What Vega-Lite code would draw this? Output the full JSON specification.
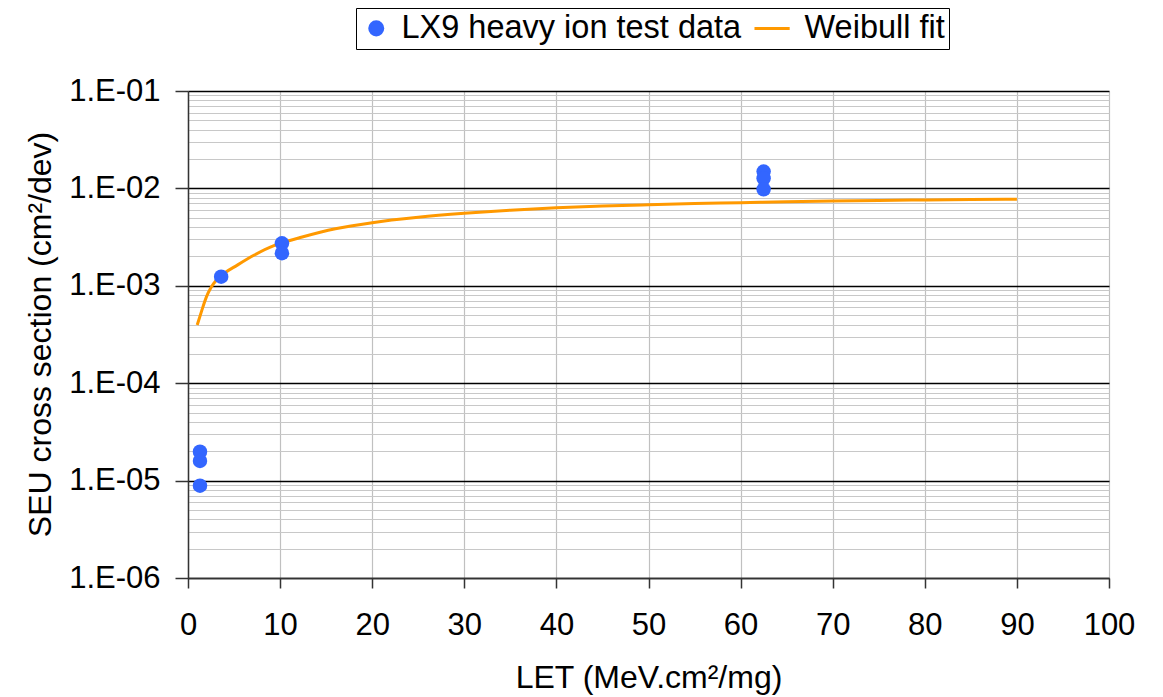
{
  "$schema": "https://vega.github.io/schema/vega-lite/v6.json",
  "autosize": "none",
  "padding": {"left": 188, "top": 91, "right": 54, "bottom": 119},
  "width": 921,
  "height": 487,
  "background": "white",
  "config": {
    "font": "Liberation Sans",
    "view": {"stroke": null},
    "axis": {
      "labelFont": "Liberation Sans",
      "titleFont": "Liberation Sans",
      "labelColor": "black",
      "titleColor": "black",
      "titleFontWeight": "normal",
      "labelFontSize": 31,
      "titleFontSize": 32
    }
  },
  "datasets": {
    "fit": [
      {"let": 1.0, "xs": 0.000396, "series": "Weibull fit"},
      {"let": 1.45, "xs": 0.00054, "series": "Weibull fit"},
      {"let": 2.0, "xs": 0.00077, "series": "Weibull fit"},
      {"let": 2.5, "xs": 0.00096, "series": "Weibull fit"},
      {"let": 3.07, "xs": 0.00114, "series": "Weibull fit"},
      {"let": 3.6, "xs": 0.00127, "series": "Weibull fit"},
      {"let": 5.4, "xs": 0.00164, "series": "Weibull fit"},
      {"let": 7.2, "xs": 0.00207, "series": "Weibull fit"},
      {"let": 9.4, "xs": 0.0026, "series": "Weibull fit"},
      {"let": 10.2, "xs": 0.00276, "series": "Weibull fit"},
      {"let": 12.3, "xs": 0.00315, "series": "Weibull fit"},
      {"let": 16, "xs": 0.00385, "series": "Weibull fit"},
      {"let": 20, "xs": 0.00445, "series": "Weibull fit"},
      {"let": 25, "xs": 0.00505, "series": "Weibull fit"},
      {"let": 30, "xs": 0.00555, "series": "Weibull fit"},
      {"let": 35, "xs": 0.00598, "series": "Weibull fit"},
      {"let": 40, "xs": 0.00634, "series": "Weibull fit"},
      {"let": 45, "xs": 0.0066, "series": "Weibull fit"},
      {"let": 50, "xs": 0.0068, "series": "Weibull fit"},
      {"let": 55, "xs": 0.00698, "series": "Weibull fit"},
      {"let": 60, "xs": 0.00713, "series": "Weibull fit"},
      {"let": 65, "xs": 0.0073, "series": "Weibull fit"},
      {"let": 70, "xs": 0.00743, "series": "Weibull fit"},
      {"let": 75, "xs": 0.00753, "series": "Weibull fit"},
      {"let": 80, "xs": 0.0076, "series": "Weibull fit"},
      {"let": 85, "xs": 0.00767, "series": "Weibull fit"},
      {"let": 90, "xs": 0.00773, "series": "Weibull fit"}
    ],
    "test": [
      {"let": 1.3, "xs": 0.0000198, "series": "LX9 heavy ion test data"},
      {"let": 1.3, "xs": 0.0000159, "series": "LX9 heavy ion test data"},
      {"let": 1.3, "xs": 0.00000887, "series": "LX9 heavy ion test data"},
      {"let": 3.6, "xs": 0.00124, "series": "LX9 heavy ion test data"},
      {"let": 10.2, "xs": 0.00273, "series": "LX9 heavy ion test data"},
      {"let": 10.2, "xs": 0.00216, "series": "LX9 heavy ion test data"},
      {"let": 62.5, "xs": 0.0149, "series": "LX9 heavy ion test data"},
      {"let": 62.5, "xs": 0.0127, "series": "LX9 heavy ion test data"},
      {"let": 62.5, "xs": 0.0098, "series": "LX9 heavy ion test data"}
    ]
  },
  "layer": [
    {
      "data": {"name": "fit"},
      "mark": {"type": "line", "stroke": "#ff9900", "strokeWidth": 3, "interpolate": "monotone", "clip": true},
      "encoding": {
        "x": {
          "field": "let",
          "type": "quantitative",
          "scale": {"domain": [0, 100], "nice": false},
          "axis": {
            "title": "LET (MeV.cm²/mg)",
            "values": [0, 10, 20, 30, 40, 50, 60, 70, 80, 90, 100],
            "grid": true,
            "gridColor": "#c0c0c0",
            "gridWidth": 1.2,
            "domainColor": "#333333",
            "domainWidth": 1.5,
            "tickColor": "#333333",
            "tickWidth": 1.5,
            "tickSize": 10,
            "labelPadding": 22,
            "labelFlush": false,
            "titleBaseline": "middle",
            "titleY": 99
          }
        },
        "y": {
          "field": "xs",
          "type": "quantitative",
          "scale": {"type": "log", "domain": [0.000001, 0.1], "nice": false},
          "axis": {
            "title": "SEU cross section (cm²/dev)",
            "values": [0.000001, 0.000002, 0.000003, 0.000004, 0.000005, 0.000006, 0.000007, 0.000008, 0.000009,
                       0.00001, 0.00002, 0.00003, 0.00004, 0.00005, 0.00006, 0.00007, 0.00008, 0.00009,
                       0.0001, 0.0002, 0.0003, 0.0004, 0.0005, 0.0006, 0.0007, 0.0008, 0.0009,
                       0.001, 0.002, 0.003, 0.004, 0.005, 0.006, 0.007, 0.008, 0.009,
                       0.01, 0.02, 0.03, 0.04, 0.05, 0.06, 0.07, 0.08, 0.09, 0.1],
            "labelExpr": "abs(log(datum.value)/LN10 - round(log(datum.value)/LN10)) < 0.000001 ? '1.E-0' + (-round(log(datum.value)/LN10)) : ''",
            "grid": true,
            "gridColor": {"condition": {"test": "abs(log(datum.value)/LN10 - round(log(datum.value)/LN10)) < 0.000001", "value": "#000000"}, "value": "#c8c8c8"},
            "gridWidth": {"condition": {"test": "abs(log(datum.value)/LN10 - round(log(datum.value)/LN10)) < 0.000001", "value": 1.3}, "value": 1},
            "tickColor": {"condition": {"test": "abs(log(datum.value)/LN10 - round(log(datum.value)/LN10)) < 0.000001", "value": "#333333"}, "value": "transparent"},
            "tickWidth": 1.5,
            "tickSize": 13,
            "labelPadding": 15,
            "labelFlush": false,
            "labelOverlap": false,
            "domainColor": "#333333",
            "domainWidth": 1.5,
            "titleAngle": -90,
            "titleBaseline": "middle",
            "titleX": -148,
            "titleY": 243
          }
        },
        "color": {
          "field": "series",
          "type": "nominal",
          "scale": {"domain": ["LX9 heavy ion test data", "Weibull fit"], "range": ["#3366ff", "#ff9900"]},
          "legend": {
            "orient": "none",
            "legendX": 168,
            "legendY": -83,
            "direction": "horizontal",
            "title": null,
            "strokeColor": "black",
            "padding": 4,
            "labelFont": "Liberation Sans",
            "labelFontSize": 32.5,
            "labelColor": "black",
            "labelLimit": 0,
            "labelOffset": 9,
            "columnPadding": 6,
            "symbolSize": 170,
            "symbolStrokeWidth": 3
          }
        }
      }
    },
    {
      "data": {"name": "test"},
      "mark": {"type": "point", "filled": true, "size": 210, "opacity": 1},
      "encoding": {
        "x": {"field": "let", "type": "quantitative"},
        "y": {"field": "xs", "type": "quantitative"},
        "color": {"field": "series", "type": "nominal"},
        "shape": {
          "field": "series",
          "type": "nominal",
          "scale": {"domain": ["LX9 heavy ion test data", "Weibull fit"], "range": ["circle", "M-3.8,0H1.6"]}
        }
      }
    }
  ]
}
